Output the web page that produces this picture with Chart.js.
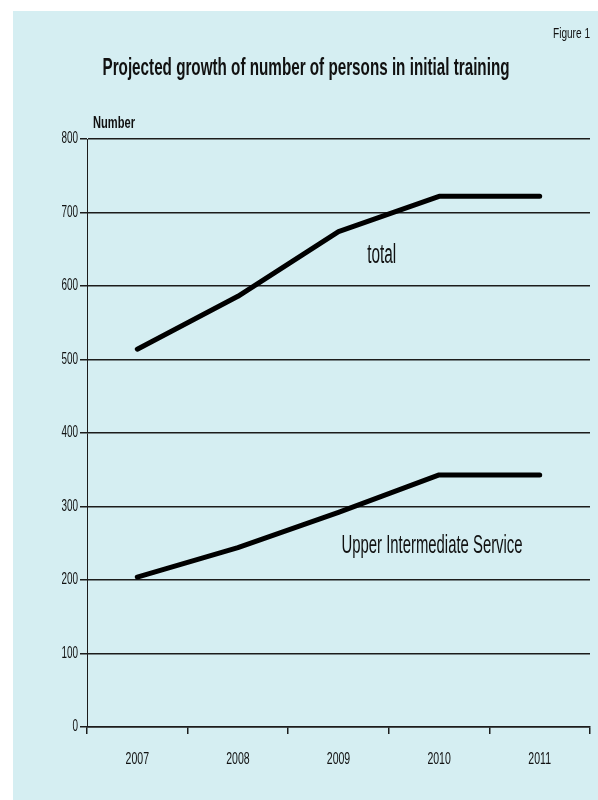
<!DOCTYPE html>
<html>
<head>
<meta charset="utf-8">
<script src="https://cdn.jsdelivr.net/npm/chart.js@4.4.1/dist/chart.umd.min.js"></script>
<style>
  html, body { margin: 0; padding: 0; background: #ffffff; }
  canvas { display: block; }
</style>
</head>
<body>
<canvas id="growth" width="598" height="800"></canvas>
<script>
// Categories and series (persons in initial training)
const years = ['2007', '2008', '2009', '2010', '2011'];
const totalPersons = [514, 586, 674, 722, 722];
const upperIntermediate = [204, 244, 292, 343, 343];
const seriesNames = ['total', 'Upper Intermediate Service'];
const yTickValues = [0, 100, 200, 300, 400, 500, 600, 700, 800];

const chartTitle = 'Projected growth of number of persons in initial training';
const figureLabel = 'Figure 1';
const yAxisTitle = 'Number';

const FONT = '"Liberation Sans", Arial, "DejaVu Sans", sans-serif';
const PANEL = '#d5eef2';
const INK = '#111111';
const GRID = '#1c1c1c';
const SQUEEZE = 0.62;   // horizontal condensing of the axis lettering

// Panel background, condensed axis lettering, and the free-standing texts
const panelAndText = {
  id: 'panelAndText',
  beforeDraw(chart) {
    const ctx = chart.ctx;
    ctx.save();
    ctx.fillStyle = '#ffffff';
    ctx.fillRect(0, 0, chart.width, chart.height);
    ctx.fillStyle = PANEL;
    ctx.fillRect(13, 11, chart.width - 13, chart.height - 11);
    ctx.restore();
    // axis labels are drawn next; render them condensed
    const plain = ctx.fillText;
    ctx.fillText = function (text, x, y, maxWidth) {
      const w = this.measureText(text).width * SQUEEZE;
      return plain.call(this, text, x, y, maxWidth === undefined ? w : Math.min(maxWidth, w));
    };
    chart.$plainFillText = plain;
  },
  beforeDatasetsDraw(chart) {
    if (chart.$plainFillText) {
      chart.ctx.fillText = chart.$plainFillText;
      delete chart.$plainFillText;
    }
  },
  afterDraw(chart) {
    const ctx = chart.ctx;
    const put = (text, x, y, font, align, width) => {
      ctx.font = font;
      ctx.textAlign = align;
      ctx.textBaseline = 'middle';
      ctx.fillStyle = INK;
      ctx.fillText(text, x, y, width);
    };
    const xs = chart.scales.x, ys = chart.scales.y;
    ctx.save();
    put(chartTitle, 306, 68, 'bold 24px ' + FONT, 'center', 407);
    put(figureLabel, 590, 34, '15px ' + FONT, 'right', 37);
    put(yAxisTitle, 93, 124, 'bold 16px ' + FONT, 'left', 42);
    put(seriesNames[0], xs.getPixelForValue(2.43), ys.getPixelForValue(641), '27px ' + FONT, 'center', 29);
    put(seriesNames[1], xs.getPixelForValue(2.93), ys.getPixelForValue(247), '26px ' + FONT, 'center', 181);
    ctx.restore();
  }
};

const lineStyle = {
  borderColor: '#000000',
  borderWidth: 5,
  pointRadius: 0,
  pointHoverRadius: 0,
  tension: 0,
  fill: false,
  borderCapStyle: 'round',
  borderJoinStyle: 'round'
};

new Chart(document.getElementById('growth'), {
  type: 'line',
  data: {
    labels: years,
    datasets: [
      Object.assign({ label: seriesNames[0], data: totalPersons }, lineStyle),
      Object.assign({ label: seriesNames[1], data: upperIntermediate }, lineStyle)
    ]
  },
  options: {
    responsive: false,
    animation: false,
    devicePixelRatio: 1,
    layout: { padding: { top: 139, right: 8, bottom: 0, left: 0 } },
    plugins: {
      legend: { display: false },
      title: { display: false },
      tooltip: { enabled: false }
    },
    scales: {
      x: {
        type: 'category',
        offset: true,
        afterFit(scale) { scale.height = 73; },
        grid: {
          offset: true,
          drawOnChartArea: false,
          drawTicks: true,
          tickLength: 7,
          color: GRID,
          lineWidth: 1.5
        },
        border: { display: true, color: GRID, width: 1.5 },
        ticks: {
          color: INK,
          padding: 15,
          maxRotation: 0,
          font: { family: FONT, size: 17 }
        }
      },
      y: {
        min: 0,
        max: 800,
        afterFit(scale) { scale.width = 87; },
        afterBuildTicks(scale) { scale.ticks = yTickValues.map(v => ({ value: v })); },
        grid: {
          drawOnChartArea: true,
          drawTicks: true,
          tickLength: 7,
          color: GRID,
          lineWidth: 1.5
        },
        border: { display: true, color: GRID, width: 1 },
        ticks: {
          color: INK,
          padding: 2,
          font: { family: FONT, size: 16 }
        }
      }
    }
  },
  plugins: [panelAndText]
});
</script>
</body>
</html>
